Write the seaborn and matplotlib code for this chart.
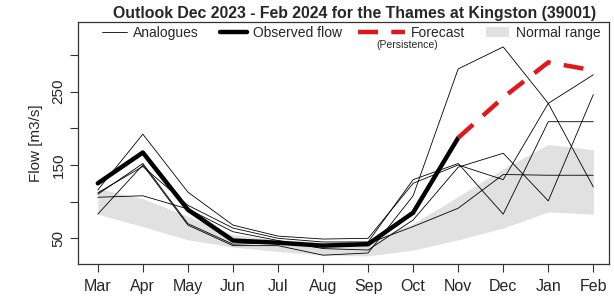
import numpy as np
import pandas as pd
import matplotlib
matplotlib.use('Agg')
import matplotlib.pyplot as plt
from matplotlib.lines import Line2D
from matplotlib.patches import Patch
import seaborn as sns

#---------------------------------------------------------
months=['Mar', 'Apr', 'May', 'Jun', 'Jul', 'Aug', 'Sep', 'Oct', 'Nov', 'Dec', 'Jan', 'Feb']
observed=[125, 167, 89, 47, 44, 40, 42, 85, 187]          #Mar-Nov
forecast_months=['Nov', 'Dec', 'Jan', 'Feb']
forecast=[187, 242, 290, 279]
normal_low=[83, 66, 48, 38, 32, 27, 26, 34, 48, 64, 86, 83]
normal_high=[118, 104, 80, 55, 48, 45, 47, 70, 107, 145, 178, 171]
analogue_1=[83, 150, 68, 40, 40, 27, 30, 108, 281, 311, 234, 120]
analogue_2=[116, 192, 113, 68, 53, 49, 50, 125, 150, 130, 234, 273]
analogue_3=[112, 148, 95, 64, 50, 45, 45, 130, 152, 83, 209, 209]
analogue_4=[106, 108, 90, 59, 47, 36, 34, 75, 147, 166, 101, 246]
analogue_5=[110, 152, 70, 42, 44, 40, 43, 66, 91, 137, 136, 136]

#--------------------------------------------------------
pos={m: i for i, m in enumerate(months)}
rows=[]
for k, a in enumerate([analogue_1, analogue_2, analogue_3, analogue_4, analogue_5]):
	for m, v in zip(months, a):
		rows.append({'analogue': k, 'x': pos[m], 'flow': v})
df_ana=pd.DataFrame(rows)
df_obs=pd.DataFrame({'x': range(len(observed)), 'flow': observed})
df_fc=pd.DataFrame({'x': [pos[m] for m in forecast_months], 'flow': forecast})

#--------------------------------------------------------
sns.set_style('white')
plt.rcParams['font.family']=['Liberation Sans', 'DejaVu Sans']

fig, ax=plt.subplots(figsize=(6.14, 3.01), dpi=100)
fig.subplots_adjust(left=0.127, right=0.992, top=0.927, bottom=0.123)

grey='#e1e1e1'
red='#e3171b'
ax.fill_between(range(len(months)), normal_low, normal_high, color=grey, lw=0, zorder=1)
sns.lineplot(data=df_ana, x='x', y='flow', units='analogue', estimator=None, color='black', lw=0.6, ax=ax, zorder=2)
sns.lineplot(data=df_obs, x='x', y='flow', color='black', lw=3.2, ax=ax, zorder=3)
sns.lineplot(data=df_fc, x='x', y='flow', color=red, lw=3.2, ax=ax, zorder=3, linestyle=(0, (4.5, 3)))

#axes
ax.set_xlim(-0.44, 11.35)
ax.set_ylim(15, 345)
ax.set_xticks(range(len(months)))
ax.set_xticklabels(months, fontsize=11.5)
ax.set_yticks(range(50, 301, 50))
ax.set_yticklabels(['50', '', '150', '', '250', ''], fontsize=11, rotation=90, va='center')
ax.tick_params(axis='both', direction='out', length=6, width=0.8, color='#333333', bottom=True, left=True)
ax.tick_params(axis='x', pad=5)
ax.tick_params(axis='y', pad=3)
ax.set_xlabel('')
ax.set_ylabel('Flow [m3/s]', fontsize=11, labelpad=6)
for s in ax.spines.values():
	s.set_color('#333333')
	s.set_linewidth(0.9)
ax.set_title('Outlook Dec 2023 - Feb 2024 for the Thames at Kingston (39001)', x=0.52, fontsize=11.4, weight='bold', pad=3)

#legend, one item at a time like the R version
def add_leg(handle, label, x, hl, hh=0.7):
	leg=ax.legend([handle], [label], loc='center left', bbox_to_anchor=(x, 0.955), frameon=False,
		fontsize=10, handlelength=hl, handleheight=hh, handletextpad=0.45, borderpad=0, borderaxespad=0)
	ax.add_artist(leg)
	ax.legend_=None

add_leg(Line2D([], [], color='black', lw=0.6), 'Analogues', 0.045, 1.8)
add_leg(Line2D([], [], color='black', lw=3.2), 'Observed flow', 0.267, 1.95)
add_leg(Line2D([], [], color=red, lw=3.2, linestyle=(0, (4.5, 3))), 'Forecast', 0.527, 3.4)
add_leg(Patch(facecolor=grey, edgecolor='none'), 'Normal range', 0.768, 1.7, 0.8)
ax.text(0.62, 0.905, '(Persistence)', transform=ax.transAxes, fontsize=7.5, ha='center', va='center')

plt.savefig('out.png', dpi=100)
plt.close()
